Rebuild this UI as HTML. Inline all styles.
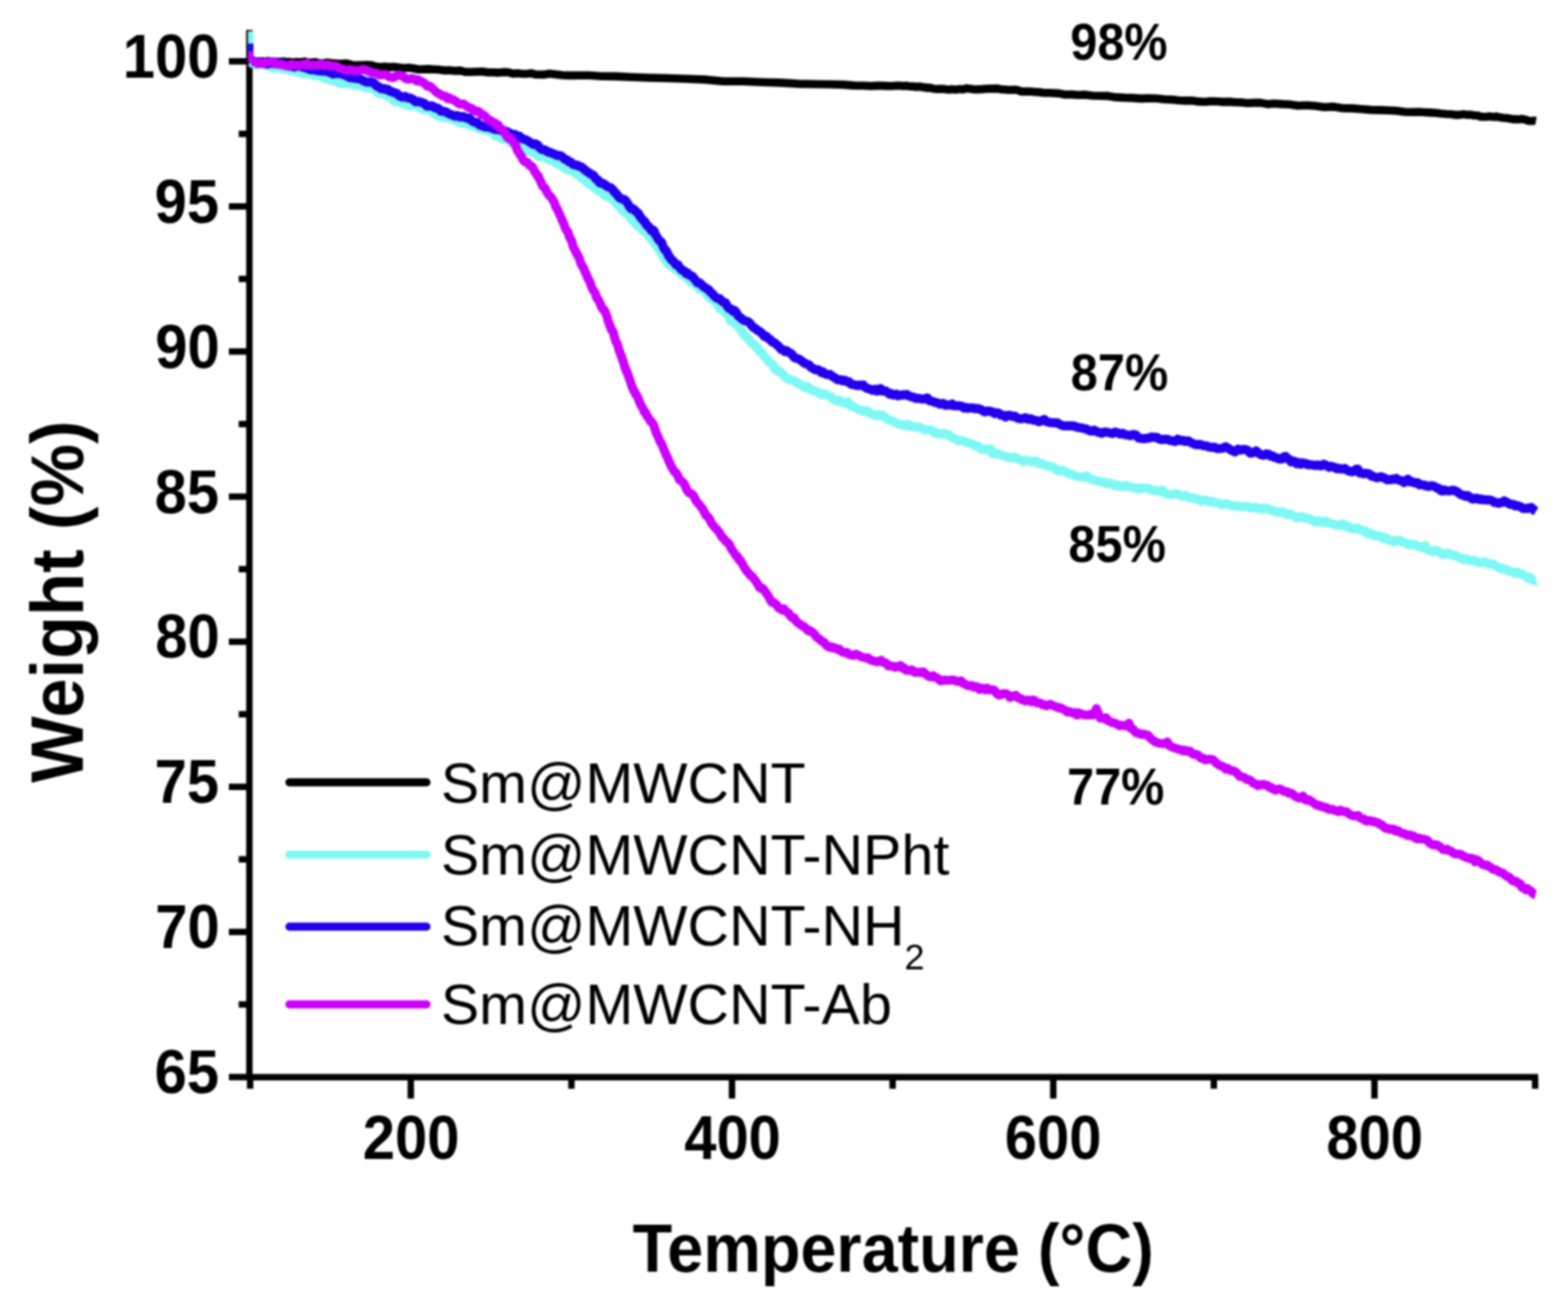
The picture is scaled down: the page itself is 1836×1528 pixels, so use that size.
<!DOCTYPE html>
<html><head><meta charset="utf-8"><title>TGA</title><style>html,body{margin:0;padding:0;background:#fff;width:1836px;height:1528px;overflow:hidden}svg{display:block;filter:blur(1px)}</style></head><body>
<svg width="1836" height="1528" viewBox="0 0 1836 1528">
<rect width="1836" height="1528" fill="#ffffff"/>
<g stroke="#000" stroke-width="7.5" fill="none" stroke-linecap="butt">
<path d="M292.0 35V1264.8"/>
<path d="M288.5 1261.3H1801.0"/>
<path d="M292.0 1261.1H268.0"/>
<path d="M292.0 1091.2H268.0"/>
<path d="M292.0 921.3H268.0"/>
<path d="M292.0 751.4H268.0"/>
<path d="M292.0 581.5H268.0"/>
<path d="M292.0 411.6H268.0"/>
<path d="M292.0 241.7H268.0"/>
<path d="M292.0 71.8H268.0"/>
<path d="M292.0 156.8H279.5"/>
<path d="M292.0 326.6H279.5"/>
<path d="M292.0 496.5H279.5"/>
<path d="M292.0 666.4H279.5"/>
<path d="M292.0 836.3H279.5"/>
<path d="M292.0 1006.2H279.5"/>
<path d="M292.0 1176.1H279.5"/>
<path d="M481.0 1261.3V1286.3"/>
<path d="M857.1 1261.3V1286.3"/>
<path d="M1233.3 1261.3V1286.3"/>
<path d="M1609.4 1261.3V1286.3"/>
<path d="M292.9 1261.3V1274.8"/>
<path d="M669.1 1261.3V1274.8"/>
<path d="M1045.2 1261.3V1274.8"/>
<path d="M1421.3 1261.3V1274.8"/>
<path d="M1797.5 1261.3V1274.8"/>
</g>
<g fill="none" stroke-linejoin="round" stroke-linecap="butt">
<path d="M293.5 71.5L297.9 71.5L300.6 72.3L303.7 71.7L307.0 71.8L310.6 72.3L314.4 71.4L318.3 72.1L322.3 72.2L326.4 72.5L330.6 72.1L334.7 72.4L338.7 72.5L342.6 73.3L346.4 72.6L350.0 72.7L353.4 72.7L356.7 72.1L360.0 73.1L363.2 73.2L366.3 73.1L369.4 72.9L372.6 73.9L375.7 74.1L378.9 74.3L382.2 73.3L385.6 73.6L389.2 74.2L392.9 74.2L396.7 74.8L400.7 74.6L405.0 74.3L409.5 75.2L414.1 76.5L418.9 76.4L423.8 76.4L428.8 76.0L434.0 76.2L439.3 77.7L444.7 78.5L450.2 78.0L455.7 78.6L461.3 78.3L467.0 79.0L472.7 79.8L478.5 79.3L484.2 80.0L490.0 81.3L495.8 81.1L501.8 80.9L507.8 81.2L513.9 81.5L520.1 82.4L526.4 82.2L532.7 83.0L539.1 82.6L545.4 84.3L551.8 84.2L558.2 84.0L564.6 83.7L571.0 84.8L577.4 84.8L583.7 85.1L590.0 84.4L595.9 84.8L601.1 86.3L605.8 85.8L610.1 86.3L614.2 86.5L618.3 86.2L622.4 85.8L626.9 87.1L631.7 87.3L637.1 87.4L643.2 86.3L650.2 87.0L658.3 88.0L667.5 88.4L678.0 88.2L690.0 88.3L704.1 89.2L720.4 89.4L738.7 90.3L758.6 91.0L779.8 91.5L801.9 92.3L824.5 93.1L847.5 95.3L870.4 95.2L892.8 96.3L914.5 96.9L935.2 98.1L954.3 98.5L971.8 98.7L987.1 99.1L1000.0 100.1L1010.7 100.3L1019.6 100.7L1027.0 100.4L1033.0 100.4L1037.9 100.6L1041.7 100.7L1044.6 100.8L1046.9 100.5L1050.0 100.2L1052.3 100.4L1055.2 100.3L1057.3 100.8L1060.0 100.4L1063.0 100.6L1065.8 101.2L1068.3 101.0L1070.8 101.6L1073.0 101.4L1075.2 101.7L1077.4 101.2L1079.5 101.9L1081.6 102.5L1083.8 102.1L1086.1 103.2L1088.5 102.6L1091.1 103.4L1093.8 104.0L1096.8 104.3L1100.0 104.0L1103.5 104.1L1107.1 104.6L1111.0 105.0L1114.9 104.4L1119.0 104.9L1123.3 104.2L1127.6 104.8L1132.0 103.4L1136.5 104.0L1141.0 104.8L1145.5 104.6L1150.1 104.4L1154.6 104.0L1159.1 103.9L1163.6 103.9L1168.0 103.6L1172.3 104.7L1176.3 104.8L1180.3 105.2L1184.1 105.3L1187.9 105.1L1191.7 105.5L1195.6 107.1L1199.5 107.1L1203.6 107.0L1207.8 107.2L1212.3 107.8L1217.1 107.9L1222.2 108.7L1227.7 108.8L1233.6 109.0L1240.0 109.4L1246.9 110.7L1254.4 110.6L1262.3 111.3L1270.7 110.9L1279.4 112.0L1288.4 112.2L1297.6 112.4L1306.9 113.9L1316.4 114.4L1325.9 114.6L1335.4 115.4L1344.7 115.1L1354.0 115.3L1362.9 116.3L1371.6 116.6L1380.0 117.5L1388.0 117.9L1395.8 117.7L1403.3 118.9L1410.7 119.2L1417.9 118.6L1425.1 118.7L1432.2 119.4L1439.2 119.1L1446.4 119.8L1453.6 119.9L1460.9 120.8L1468.5 120.4L1476.2 120.4L1484.1 121.9L1492.4 121.3L1501.0 121.9L1510.1 122.3L1519.7 123.8L1529.7 123.2L1540.1 124.0L1550.8 125.5L1561.7 124.9L1572.6 126.8L1583.6 126.9L1594.4 127.7L1605.1 128.6L1615.6 128.9L1625.7 129.2L1635.4 129.8L1644.6 131.0L1653.1 131.2L1661.0 131.0L1668.3 131.5L1675.2 131.9L1681.7 132.2L1687.8 133.0L1693.6 133.5L1699.1 133.7L1704.3 134.6L1709.2 134.4L1713.8 133.8L1718.3 134.4L1722.5 134.4L1726.5 135.3L1730.3 135.3L1734.0 136.8L1737.5 136.7L1741.0 136.7L1744.2 136.3L1747.1 136.8L1749.6 137.0L1751.8 136.3L1753.8 137.0L1757.2 137.5L1760.1 137.9L1762.7 138.2L1765.3 138.3L1768.3 139.1L1771.8 139.6L1775.8 139.5L1777.8 139.9L1779.9 139.5L1782.0 139.2L1784.0 139.7L1786.1 140.0L1789.9 141.5L1793.4 141.8L1796.3 141.2L1798.5 141.6" stroke="#000000" stroke-width="9.6"/>
<path d="M293.5 36.5L293.5 72.5" stroke="#7ef8f4" stroke-width="6.5"/>
<path d="M293.5 72.5L295.7 74.3L298.2 75.2L300.2 76.5L302.9 75.0L306.5 74.7L308.7 75.0L311.2 76.6L313.8 76.8L316.7 78.3L319.7 79.8L322.8 79.3L325.9 79.5L329.1 80.6L332.4 80.6L335.6 81.4L338.7 82.0L341.8 82.7L344.7 82.9L347.4 84.4L350.0 83.4L352.4 84.5L354.8 86.5L357.1 85.1L359.4 86.2L361.6 86.0L363.8 86.4L365.9 88.2L368.0 88.6L370.0 88.4L372.0 88.0L373.9 89.2L377.7 90.2L381.3 92.0L384.7 93.0L387.7 93.7L390.5 94.7L393.1 94.6L395.6 96.3L398.2 97.7L400.7 97.7L403.5 96.8L406.5 97.8L409.5 98.4L412.4 98.0L415.4 99.9L418.6 99.6L421.9 100.7L425.5 100.9L427.4 102.6L429.5 102.6L431.6 102.9L433.9 102.7L436.4 104.4L439.1 105.0L441.9 108.1L444.9 110.0L447.9 109.4L451.0 111.4L454.0 112.8L457.1 114.1L460.1 117.0L463.0 119.1L465.8 119.2L468.4 119.4L470.8 121.5L473.0 121.0L475.0 122.7L478.2 123.3L480.5 123.8L482.9 124.5L485.5 123.2L487.8 124.3L490.0 124.5L492.5 126.4L495.1 128.3L497.8 128.3L500.7 127.6L503.8 129.9L507.4 132.5L509.3 133.7L511.4 134.4L513.6 136.1L516.0 135.3L518.6 137.8L521.4 137.8L524.5 138.0L527.8 138.8L531.2 140.4L534.7 141.0L538.3 143.7L541.9 144.6L545.6 144.3L549.2 146.6L552.8 147.7L556.2 148.1L559.6 150.4L562.8 149.8L565.7 152.0L568.5 152.7L571.1 152.8L573.5 153.9L575.9 154.6L578.1 155.8L580.3 159.3L582.4 158.4L584.4 159.2L586.3 161.2L588.2 162.9L590.0 162.8L593.5 163.3L596.8 165.2L600.0 168.1L603.0 168.7L605.7 169.8L608.2 171.4L610.5 171.1L612.8 172.0L615.0 174.7L617.2 174.5L619.6 176.9L622.1 178.1L624.5 178.3L627.0 180.2L629.5 182.2L631.9 183.9L634.4 182.9L636.8 183.5L639.3 185.0L641.8 186.8L644.2 187.9L646.7 188.1L649.1 189.7L651.6 191.5L654.0 192.0L656.5 194.3L658.9 195.2L661.3 196.6L663.8 198.7L666.2 198.2L668.7 199.5L671.1 200.4L673.6 202.0L676.0 204.5L678.5 204.7L681.0 208.7L683.5 209.5L686.0 212.2L688.5 214.6L691.0 216.2L693.4 217.6L695.8 220.2L698.2 220.3L700.5 223.3L702.8 224.2L705.0 226.0L707.2 228.4L709.4 229.7L711.5 230.1L713.6 229.9L715.7 231.0L717.7 234.1L719.8 236.5L721.7 238.3L723.7 240.8L725.6 240.5L727.5 244.9L729.4 246.8L731.4 248.6L733.4 249.5L735.3 250.4L737.3 253.9L739.2 256.1L741.2 258.7L743.2 259.9L745.1 263.0L747.1 264.8L749.1 265.4L751.1 267.9L753.2 270.6L755.2 271.3L757.2 273.0L759.1 275.6L761.0 277.6L762.8 280.7L764.5 282.1L766.0 283.9L767.5 286.7L769.0 287.5L770.4 290.8L771.8 292.4L773.2 294.1L774.6 297.5L776.0 298.6L777.3 301.8L778.6 304.3L779.9 305.4L781.3 307.5L782.7 309.4L784.3 310.3L786.0 311.7L787.8 312.9L789.6 313.8L791.5 314.8L793.5 317.6L795.6 318.4L798.0 320.8L800.6 322.7L803.6 324.5L805.2 326.1L807.0 327.2L808.8 330.1L810.7 329.3L812.7 330.7L814.8 334.0L816.9 335.0L819.0 338.6L821.2 337.5L823.4 338.6L825.6 342.1L827.8 344.9L830.0 348.0L832.1 349.3L834.2 350.9L836.3 352.1L838.4 354.4L840.5 356.7L842.7 361.4L845.0 362.2L847.2 363.1L849.5 366.6L851.8 368.7L854.0 371.9L856.2 376.4L858.3 376.8L860.4 378.2L862.4 380.2L864.2 382.3L866.0 384.6L867.6 386.3L869.0 388.8L871.4 392.1L873.2 393.5L875.0 395.7L876.4 396.4L877.9 398.3L880.0 401.9L881.7 402.2L883.5 403.4L885.4 406.4L887.3 408.0L889.4 411.6L891.5 412.5L893.8 415.5L896.3 419.0L898.9 421.5L901.5 424.8L904.2 426.3L905.6 427.6L907.0 431.4L908.5 432.5L910.1 434.2L911.7 435.1L913.3 434.7L915.1 437.0L916.9 438.6L918.8 440.9L920.8 442.4L922.9 443.9L925.1 444.2L927.3 445.1L929.7 445.8L932.1 447.2L934.6 449.1L937.1 450.1L939.7 451.6L942.4 453.8L945.0 452.3L947.8 455.3L950.5 456.0L953.3 458.0L956.1 458.2L958.9 460.1L961.7 462.0L964.6 461.1L967.5 462.1L970.6 463.5L973.8 465.6L977.0 468.3L980.2 469.8L983.5 468.5L986.7 471.6L990.0 472.0L993.2 470.6L996.3 475.8L999.4 475.9L1002.4 478.1L1005.3 479.5L1008.1 479.8L1010.7 481.6L1013.2 480.7L1015.6 481.2L1017.8 483.6L1020.0 484.5L1022.1 484.9L1024.2 485.9L1026.1 486.7L1028.1 485.4L1030.0 486.8L1033.7 486.0L1037.5 489.7L1039.4 490.6L1041.4 491.8L1043.4 492.1L1045.4 493.1L1047.5 494.0L1049.5 495.0L1051.6 496.2L1053.6 497.0L1055.6 497.2L1057.7 497.2L1059.7 498.4L1061.7 497.0L1063.8 497.3L1065.8 499.5L1067.8 499.7L1069.9 499.3L1071.9 500.1L1074.0 500.2L1076.0 499.8L1078.0 500.8L1080.1 501.7L1082.1 502.9L1084.2 503.4L1086.2 503.2L1088.3 503.3L1090.3 503.3L1092.4 505.3L1094.5 507.0L1096.5 506.3L1098.6 507.8L1100.6 508.0L1102.7 508.2L1104.7 507.4L1106.8 509.0L1108.8 508.6L1110.8 509.2L1112.8 511.0L1114.8 512.3L1116.8 513.1L1118.8 514.3L1120.8 515.5L1122.8 516.1L1124.7 515.7L1126.7 515.7L1128.7 516.3L1130.8 517.8L1132.8 518.4L1134.9 518.5L1137.0 519.8L1139.2 520.2L1141.4 521.9L1143.6 522.4L1145.9 522.5L1148.1 525.2L1150.4 526.1L1152.7 526.4L1155.0 525.8L1157.3 526.0L1159.7 525.6L1162.1 531.1L1164.5 531.6L1167.0 530.5L1169.5 532.0L1172.0 532.4L1174.6 533.4L1177.3 534.3L1180.0 535.5L1182.8 535.4L1185.6 536.3L1188.5 535.1L1191.5 537.3L1194.5 537.9L1197.6 540.4L1200.7 538.8L1203.8 539.3L1207.0 540.4L1210.2 540.1L1213.3 539.6L1216.5 543.2L1219.7 542.4L1222.8 544.6L1225.9 545.2L1229.0 546.1L1232.1 546.3L1235.1 548.2L1238.2 551.1L1241.2 551.1L1244.3 550.6L1247.4 552.0L1250.4 554.4L1253.5 554.7L1256.6 556.2L1259.6 557.4L1262.7 557.9L1265.8 558.3L1268.8 558.8L1271.9 557.1L1274.9 559.5L1278.0 561.4L1281.1 562.0L1284.1 562.9L1287.2 563.5L1290.2 563.9L1293.3 564.4L1296.4 566.5L1299.4 566.0L1302.5 566.2L1305.6 568.9L1308.6 567.8L1311.7 569.7L1314.8 569.9L1317.8 568.3L1320.9 569.9L1323.9 569.9L1327.0 570.8L1330.1 571.5L1333.1 573.0L1336.2 570.9L1339.2 572.0L1342.3 571.5L1345.4 572.1L1348.4 573.9L1351.5 574.5L1354.6 574.4L1357.6 575.6L1360.7 573.9L1363.8 577.3L1366.8 578.3L1369.9 579.1L1372.9 579.1L1376.0 577.7L1379.1 578.4L1382.1 580.4L1385.1 581.0L1388.1 580.1L1391.1 581.9L1394.1 583.0L1397.1 583.0L1400.1 583.9L1403.1 584.2L1406.2 586.8L1409.2 585.5L1412.3 585.7L1415.4 587.6L1418.6 586.8L1421.8 588.2L1425.0 588.6L1428.3 589.7L1431.7 591.0L1435.2 589.5L1438.8 590.7L1442.4 592.2L1446.0 592.3L1449.7 592.9L1453.3 593.1L1456.9 593.2L1460.5 592.7L1464.0 594.6L1467.4 594.6L1470.8 593.7L1474.0 595.7L1477.1 595.5L1480.0 595.9L1482.8 594.6L1485.4 595.8L1487.9 596.8L1490.3 598.3L1492.7 598.5L1494.9 599.4L1497.1 600.1L1499.2 599.5L1501.3 599.2L1503.3 600.4L1505.4 601.7L1507.4 602.8L1509.5 601.9L1511.6 602.2L1513.8 603.2L1516.0 604.7L1518.3 606.5L1520.5 604.9L1522.8 605.8L1525.0 604.8L1527.3 606.6L1529.5 606.7L1531.8 606.6L1534.0 607.6L1536.3 609.3L1538.5 609.8L1540.8 611.2L1543.0 609.9L1545.3 610.0L1547.5 611.6L1549.8 611.0L1552.0 610.0L1554.2 612.1L1556.5 611.9L1558.7 612.5L1561.0 613.5L1563.2 614.9L1565.4 614.9L1567.7 614.3L1569.9 615.4L1572.1 613.4L1574.4 614.5L1576.6 616.9L1578.8 616.4L1581.1 618.6L1583.3 619.3L1585.6 618.5L1587.8 619.2L1590.0 618.3L1592.3 620.3L1594.5 621.3L1596.8 622.1L1599.0 621.9L1601.3 625.3L1603.5 624.5L1605.8 624.8L1608.0 626.7L1610.3 627.5L1612.6 627.1L1614.8 627.5L1617.1 627.9L1619.3 630.5L1621.6 629.4L1623.8 630.4L1626.0 632.2L1628.3 633.1L1630.5 632.7L1632.8 634.5L1635.0 633.0L1637.3 632.7L1639.5 632.5L1641.8 634.5L1644.0 635.4L1646.2 636.0L1648.5 637.4L1650.7 637.6L1653.0 637.0L1655.2 638.3L1657.5 637.7L1659.7 639.6L1661.9 640.2L1664.2 640.6L1666.4 641.8L1668.7 638.8L1670.9 643.0L1673.2 644.5L1675.4 645.0L1677.7 646.0L1680.0 644.5L1682.2 644.7L1684.5 645.9L1686.7 647.3L1689.0 649.2L1691.2 648.8L1693.5 648.3L1695.7 647.6L1697.9 649.5L1700.2 649.5L1702.4 650.7L1704.7 650.4L1706.9 652.2L1709.2 653.3L1711.4 653.2L1713.6 655.4L1715.9 654.2L1718.1 654.9L1720.4 655.9L1722.6 656.5L1724.9 656.3L1727.1 656.3L1729.4 657.9L1731.6 658.7L1733.9 658.6L1736.1 658.5L1738.4 657.8L1740.7 658.9L1743.0 660.7L1745.3 660.3L1747.6 660.3L1749.9 661.7L1752.2 663.3L1754.5 663.9L1756.7 665.8L1759.0 665.4L1761.2 666.9L1763.3 666.5L1765.5 667.9L1767.6 668.7L1769.7 669.6L1771.9 669.9L1774.2 671.3L1776.4 669.9L1778.7 670.8L1780.9 671.4L1783.1 672.8L1785.3 673.9L1787.4 675.4L1789.4 677.2L1791.3 676.2L1794.7 678.9L1797.4 680.1L1798.5 679.5" stroke="#7ef8f4" stroke-width="10.6"/>
<path d="M293.5 51L293.5 72.5" stroke="#2200ee" stroke-width="6.5"/>
<path d="M293.5 72.5L296.0 71.0L298.4 72.2L302.0 72.7L304.3 73.3L306.9 73.2L309.8 73.8L313.0 75.2L316.3 73.8L319.8 74.3L323.3 74.6L327.0 73.8L330.6 73.8L334.2 76.3L337.7 77.1L341.1 77.2L344.3 78.4L347.3 77.3L350.0 77.3L352.5 77.7L355.0 78.8L357.4 79.2L359.7 80.1L361.9 80.9L364.1 81.7L366.2 81.0L368.2 81.8L370.2 82.3L374.1 83.0L377.7 83.3L381.3 83.4L384.7 84.2L387.7 85.6L390.5 86.7L393.1 85.6L395.6 86.3L398.2 86.1L400.7 86.8L403.5 88.0L406.5 89.2L409.6 90.9L412.8 91.0L416.0 91.8L419.3 92.0L422.7 93.0L426.2 94.9L429.8 96.3L433.5 95.7L435.4 96.5L437.5 96.8L439.5 99.2L441.6 101.2L443.7 101.5L445.9 103.6L448.0 104.1L450.1 103.6L452.3 104.9L454.4 104.6L456.5 106.9L458.5 107.3L460.5 108.3L462.4 108.6L464.3 109.1L467.8 112.4L471.2 113.7L474.4 112.9L477.6 114.8L480.6 114.9L483.7 116.5L486.8 119.3L490.0 118.8L493.3 119.9L496.5 120.8L499.8 124.2L503.1 124.1L506.4 124.1L509.6 126.5L512.9 126.6L516.2 130.1L519.5 130.3L522.8 131.3L526.0 133.5L529.3 134.4L532.6 136.0L535.9 135.2L539.1 137.1L542.4 136.4L545.6 138.2L548.8 138.1L552.0 141.1L555.1 143.0L558.3 143.2L561.6 146.4L565.0 147.6L568.5 148.6L572.3 148.7L574.2 149.4L576.3 150.1L578.3 151.2L580.4 151.7L582.5 151.3L584.7 152.0L586.8 152.9L588.8 153.4L590.9 154.1L592.8 153.6L596.6 155.6L600.0 157.7L603.0 157.4L605.7 159.5L608.2 159.4L610.5 161.6L612.8 162.7L615.0 163.4L617.2 164.3L619.6 165.9L622.1 167.6L624.5 169.2L627.0 168.4L629.5 169.7L631.9 173.1L634.4 175.0L636.8 175.3L639.3 176.2L641.8 178.2L644.2 178.3L646.7 179.7L649.1 180.3L651.6 181.9L654.0 182.1L656.5 182.3L658.9 184.0L661.3 186.3L663.8 187.0L666.2 189.4L668.6 190.0L671.0 192.4L673.5 193.0L676.0 193.5L678.5 194.8L681.1 195.5L683.9 198.2L686.7 200.3L689.5 202.2L692.3 204.0L695.0 205.4L697.6 209.5L700.0 210.6L702.2 214.1L704.3 213.9L706.3 215.3L708.2 216.0L710.1 217.7L711.9 218.8L713.8 219.3L715.7 220.2L717.7 222.2L719.6 224.9L721.6 226.6L723.6 229.4L725.5 231.8L727.5 232.5L729.4 233.4L731.4 233.8L733.4 236.0L735.3 238.7L737.3 242.5L739.2 244.4L741.2 244.4L743.2 246.0L745.1 248.0L747.1 249.5L749.1 253.0L751.1 255.7L753.2 258.2L755.2 259.6L757.2 263.8L759.1 264.7L761.0 267.3L762.8 270.0L764.5 269.2L766.0 270.6L767.5 275.0L768.9 276.7L770.3 279.3L771.7 281.3L773.2 282.8L774.6 283.5L776.0 287.4L777.4 290.6L778.8 292.7L780.2 293.6L781.6 296.4L783.1 300.1L784.7 301.7L786.4 304.4L788.2 305.5L790.0 307.8L791.8 310.2L793.7 309.9L795.8 313.3L798.1 316.0L800.7 317.0L803.6 320.4L805.2 319.6L806.9 321.9L808.8 323.1L810.7 323.3L812.7 326.0L814.7 328.5L816.8 331.1L819.0 331.0L821.2 333.0L823.4 335.2L825.6 336.6L827.8 338.2L829.9 339.3L832.1 342.3L834.2 343.8L836.3 346.6L838.4 348.4L840.5 349.5L842.7 349.5L845.0 352.3L847.2 353.8L849.5 354.4L851.8 358.9L854.0 361.4L856.2 361.8L858.3 364.5L860.4 363.7L862.4 366.3L864.2 369.7L866.0 371.2L867.6 372.3L870.2 374.6L872.1 375.5L873.8 376.0L875.7 376.6L877.7 377.9L880.0 381.3L883.0 383.9L884.8 384.8L886.6 386.8L888.6 387.5L890.7 389.0L892.8 391.1L895.0 393.9L897.2 393.6L899.5 396.4L901.8 397.4L904.0 400.3L906.3 401.0L908.5 402.7L910.6 404.5L912.7 406.7L914.7 409.1L916.8 409.5L918.8 411.5L920.9 410.6L922.9 412.3L925.0 413.2L927.0 414.5L929.1 417.6L931.1 419.3L933.1 419.5L935.2 420.4L937.2 421.5L939.3 423.2L941.3 424.7L943.4 425.8L945.4 426.6L947.4 427.3L949.5 430.0L951.5 431.0L953.6 432.5L955.6 433.0L957.6 432.8L959.7 433.9L961.7 436.2L963.7 435.4L965.8 437.8L967.8 438.2L969.8 438.7L971.9 438.4L973.9 440.2L976.0 441.6L978.0 442.6L980.0 444.4L982.1 444.7L984.1 444.5L986.2 446.0L988.2 445.1L990.3 445.8L992.3 447.3L994.3 447.0L996.4 449.9L998.4 450.3L1000.5 450.5L1002.5 451.2L1004.6 451.5L1006.6 450.8L1008.7 451.5L1010.7 450.7L1012.7 453.0L1014.8 454.6L1016.8 455.0L1018.9 455.6L1020.9 456.9L1023.0 457.0L1025.0 455.8L1027.1 458.0L1029.1 456.3L1031.1 454.9L1033.2 457.9L1035.2 458.0L1037.3 457.8L1039.3 459.6L1041.4 461.4L1043.4 460.7L1045.4 462.4L1047.5 462.4L1049.5 461.5L1051.6 463.5L1053.6 462.6L1055.6 462.8L1057.7 462.1L1059.7 462.5L1061.7 461.9L1063.8 463.4L1065.8 464.1L1067.8 465.0L1069.9 465.1L1071.9 466.5L1074.0 466.5L1076.0 466.4L1078.0 466.9L1080.1 467.2L1082.1 467.1L1084.2 466.3L1086.2 466.1L1088.3 469.2L1090.3 469.6L1092.4 470.0L1094.5 471.2L1096.5 471.2L1098.6 472.2L1100.6 473.3L1102.7 472.6L1104.7 472.3L1106.8 474.4L1108.8 474.4L1110.8 474.0L1112.8 474.4L1114.8 473.1L1116.8 475.3L1120.8 475.1L1124.7 475.2L1126.7 476.0L1128.7 477.8L1130.8 476.9L1132.8 478.1L1134.9 477.7L1137.0 477.6L1139.2 477.6L1141.4 478.5L1143.6 478.4L1145.9 478.6L1148.1 479.4L1150.4 480.5L1152.7 482.3L1155.0 481.8L1157.3 481.3L1159.7 481.8L1162.1 482.3L1164.5 484.3L1167.0 483.3L1169.5 483.8L1172.0 486.3L1174.6 486.0L1177.3 488.3L1180.0 486.4L1182.8 486.4L1185.6 487.7L1188.5 487.3L1191.5 489.7L1194.5 490.4L1197.6 489.9L1200.7 489.1L1203.8 491.0L1207.0 490.3L1210.2 492.0L1213.3 492.2L1216.5 494.0L1219.7 492.6L1222.8 491.1L1225.9 493.9L1229.0 494.7L1232.1 494.9L1235.1 495.1L1238.2 495.1L1241.2 497.1L1244.3 498.3L1247.4 498.8L1250.4 498.5L1253.5 498.6L1256.6 498.6L1259.6 499.6L1262.7 500.6L1265.8 501.0L1268.8 501.7L1271.9 502.3L1274.9 503.9L1278.0 504.9L1281.1 503.6L1284.1 505.4L1287.2 506.4L1290.2 507.4L1293.3 505.7L1296.4 506.0L1299.4 506.8L1302.5 507.8L1305.6 505.9L1308.6 506.7L1311.7 508.3L1314.8 507.3L1317.8 509.1L1320.9 509.5L1323.9 510.1L1327.0 508.6L1330.1 509.2L1333.1 512.9L1336.2 513.2L1339.2 513.8L1342.3 513.1L1345.4 513.0L1348.4 511.5L1351.5 512.1L1354.6 512.0L1357.6 514.3L1360.7 514.7L1363.8 514.4L1366.8 514.2L1369.9 515.8L1372.9 516.2L1376.0 517.0L1379.1 514.2L1382.1 516.0L1385.1 515.5L1388.1 517.0L1391.1 516.0L1394.1 517.9L1397.1 519.4L1400.1 520.7L1403.1 520.4L1406.2 520.6L1409.2 521.9L1412.3 522.0L1415.4 523.3L1418.6 523.9L1421.8 523.6L1425.0 525.2L1428.3 525.3L1431.7 524.8L1435.2 523.0L1438.8 525.2L1442.4 527.5L1446.0 529.2L1449.7 525.9L1453.3 527.0L1456.9 526.0L1460.5 527.0L1464.0 530.7L1467.4 530.1L1470.8 527.9L1474.0 530.9L1477.1 532.8L1480.0 533.1L1482.8 531.4L1485.4 531.7L1487.9 534.3L1490.3 533.9L1492.7 535.7L1494.9 536.0L1497.1 537.4L1499.2 537.5L1501.3 537.5L1503.3 534.7L1505.4 534.4L1507.4 536.8L1509.5 537.8L1511.6 540.8L1513.8 539.7L1516.0 540.1L1518.3 543.0L1520.5 541.6L1522.8 543.5L1525.0 541.8L1527.3 543.0L1529.5 542.7L1531.8 544.3L1534.0 544.1L1536.3 544.3L1538.5 544.7L1540.8 545.1L1543.0 544.3L1545.3 545.3L1547.5 545.4L1549.8 543.5L1552.0 544.2L1554.2 545.8L1556.5 547.2L1558.7 545.9L1561.0 546.9L1563.2 547.3L1565.4 549.0L1567.7 548.3L1569.9 549.1L1572.1 549.3L1574.4 548.3L1576.6 550.0L1578.8 551.4L1581.1 551.7L1583.3 552.4L1585.6 551.7L1587.8 549.3L1590.0 549.3L1592.3 554.0L1594.5 553.9L1596.8 554.8L1599.0 554.1L1601.3 554.6L1603.5 554.9L1605.8 557.5L1608.0 557.8L1610.3 558.7L1612.6 559.4L1614.8 558.9L1617.1 558.1L1619.3 559.1L1621.6 559.8L1623.8 561.6L1626.0 561.6L1628.3 561.7L1630.5 560.8L1632.8 561.4L1635.0 560.2L1637.3 561.7L1639.5 562.7L1641.8 562.7L1644.0 565.1L1646.2 562.6L1648.5 561.0L1650.7 564.2L1653.0 563.8L1655.2 564.9L1657.5 565.8L1659.7 565.0L1661.9 567.7L1664.2 567.3L1666.4 568.0L1668.7 568.1L1670.9 569.3L1673.2 569.6L1675.4 568.8L1677.7 568.7L1680.0 569.8L1682.2 571.2L1684.5 571.7L1686.7 574.1L1689.0 575.0L1691.2 573.5L1693.5 574.5L1695.7 574.7L1697.9 574.7L1700.2 574.1L1702.4 574.1L1704.7 575.1L1706.9 576.4L1709.2 578.2L1711.4 579.6L1713.6 579.8L1715.9 581.2L1718.1 580.2L1720.4 581.4L1722.6 583.6L1724.9 584.4L1727.1 583.6L1729.4 583.4L1731.6 584.8L1733.9 584.1L1736.1 585.3L1738.4 585.0L1740.7 585.4L1743.0 585.2L1745.3 585.6L1747.6 586.4L1749.9 588.3L1752.2 588.2L1754.5 589.4L1756.7 588.4L1759.0 588.4L1761.2 586.4L1763.3 587.9L1765.5 588.6L1767.6 590.2L1769.7 590.6L1771.9 590.6L1774.2 592.5L1776.4 591.9L1778.7 592.9L1780.9 593.4L1783.1 595.4L1785.3 595.2L1787.4 595.5L1789.4 595.0L1793.1 594.1L1796.2 597.3L1798.5 598.8" stroke="#2200ee" stroke-width="10.6"/>
<path d="M293.5 60L293.5 72.5" stroke="#cc00ff" stroke-width="6.5"/>
<path d="M293.5 72.5L295.2 72.0L298.4 72.8L302.0 74.4L304.3 73.1L306.9 74.6L309.8 73.6L313.0 73.2L316.3 72.5L319.8 72.3L323.3 74.8L327.0 75.3L330.6 75.8L334.2 76.9L337.7 77.2L341.1 75.2L344.3 76.2L347.3 76.0L350.0 76.2L352.5 76.4L355.0 75.3L357.4 75.9L359.7 74.4L361.9 76.2L364.1 76.3L366.2 76.3L368.2 75.8L372.2 76.3L375.9 75.0L379.5 76.7L383.0 75.6L386.1 76.4L388.7 77.6L390.9 77.5L393.1 77.3L395.3 78.5L397.9 79.8L401.1 80.9L405.0 82.2L407.3 82.3L409.8 81.4L412.5 81.8L415.4 83.2L418.4 82.4L421.6 82.5L424.8 81.0L428.1 81.9L431.4 83.5L434.7 84.7L437.9 85.6L441.2 85.7L444.3 87.8L447.3 87.6L450.3 87.1L453.0 87.5L455.6 90.2L458.2 90.6L460.8 90.8L463.3 89.4L465.7 87.9L468.2 87.7L470.5 89.1L472.9 90.0L475.2 92.2L477.4 92.6L479.6 92.8L481.8 91.8L483.9 92.3L486.0 92.8L488.0 94.9L490.0 93.4L491.9 95.3L493.7 95.6L497.2 97.6L500.3 101.1L503.4 100.9L506.4 103.4L509.4 106.5L512.7 109.1L516.2 110.8L518.1 112.3L520.0 112.5L521.9 112.7L523.9 115.5L525.9 114.5L528.0 116.3L530.1 116.4L532.1 117.5L534.2 118.9L536.4 121.1L538.5 121.7L540.6 121.7L542.7 121.8L544.8 123.2L546.8 124.7L548.9 125.7L551.0 126.8L553.1 127.2L555.2 130.1L557.4 130.4L559.6 130.2L561.8 131.6L564.0 134.6L566.1 134.5L568.3 136.3L570.4 138.7L572.4 140.9L574.4 141.0L576.4 142.4L578.2 143.7L579.9 144.0L581.6 147.1L583.2 146.0L586.1 151.0L588.8 152.0L591.3 155.2L593.5 160.3L595.6 162.0L597.5 161.5L599.2 164.0L600.7 165.7L602.5 168.5L603.7 169.2L604.9 173.6L606.1 176.9L607.3 178.1L608.4 180.2L609.5 182.0L610.7 183.0L612.0 186.5L613.5 188.6L615.3 189.6L617.3 189.9L619.3 192.6L621.2 194.7L622.9 194.7L624.3 197.2L625.6 200.1L626.8 202.0L627.9 203.1L629.1 205.9L630.3 206.0L631.4 209.2L632.5 211.5L633.7 213.5L635.0 217.4L636.5 218.9L638.2 220.3L640.0 224.2L641.9 227.3L643.2 228.9L644.5 230.3L645.8 231.4L647.0 233.7L648.3 235.8L649.5 238.1L650.7 242.2L652.0 244.1L653.3 246.3L654.8 250.2L656.4 253.3L657.3 255.6L658.2 258.0L659.1 259.5L660.1 262.2L661.1 264.5L662.1 267.8L663.1 269.2L664.2 270.8L665.3 271.9L666.3 276.4L667.4 278.7L668.5 280.7L669.6 282.1L670.6 287.3L671.7 290.0L672.7 292.3L673.7 293.0L674.7 296.8L675.8 297.2L676.8 300.0L677.8 301.1L678.8 304.0L679.8 307.7L680.8 309.7L681.9 311.9L682.9 312.7L683.9 315.2L684.9 318.3L685.9 319.5L687.0 322.5L688.0 325.5L689.0 326.6L690.0 329.1L691.1 330.8L692.1 334.6L693.1 337.0L694.2 339.1L695.2 340.7L696.3 342.1L697.3 343.8L698.3 348.0L699.4 350.1L700.4 350.3L701.4 353.1L702.4 354.3L703.4 357.1L704.4 360.0L705.4 360.9L706.4 362.7L707.3 362.6L708.3 365.0L709.2 366.3L710.2 369.4L711.1 371.7L712.0 376.2L712.9 377.4L713.8 381.4L714.7 381.7L715.6 385.8L716.5 386.0L717.4 387.6L718.3 389.6L719.1 393.6L720.0 396.0L720.8 399.5L721.7 400.8L722.5 401.8L723.3 404.3L724.1 407.1L724.9 411.1L725.7 411.7L726.4 413.8L727.2 416.9L728.0 417.3L728.8 421.6L729.5 422.2L730.3 425.2L731.1 428.1L731.9 431.2L732.7 431.4L733.5 435.1L734.3 435.3L735.1 438.8L735.9 439.6L736.8 443.9L737.6 444.8L738.4 447.7L739.2 450.1L740.0 452.9L740.9 454.2L741.7 457.0L742.5 457.8L743.3 458.8L744.2 461.8L745.8 463.2L747.5 466.7L749.2 471.8L750.9 475.0L752.6 477.6L754.2 482.2L755.9 482.9L757.4 486.9L758.9 488.5L760.3 490.7L761.6 493.3L762.8 493.6L764.0 495.6L765.2 497.3L766.3 500.4L767.5 504.1L768.7 507.8L769.9 509.7L771.1 512.5L772.2 515.5L773.4 518.0L774.6 519.3L775.8 522.5L777.1 525.8L778.5 528.9L780.0 532.9L781.5 535.3L783.0 539.7L784.6 543.2L786.3 546.5L788.0 549.3L789.8 552.5L791.6 553.4L793.5 556.6L795.5 561.7L797.6 562.9L799.7 564.7L801.8 567.6L803.9 573.0L806.0 576.2L808.0 577.8L809.9 578.1L811.8 579.8L813.6 583.5L815.4 587.0L817.1 589.0L819.0 591.0L820.8 593.5L822.7 595.9L824.7 599.5L826.6 603.5L828.7 605.0L830.7 607.3L832.7 611.9L834.8 614.8L836.9 617.4L839.0 619.5L841.1 621.9L843.3 625.0L845.5 629.0L847.6 630.6L849.8 633.9L852.0 635.1L854.2 638.0L856.3 642.6L858.4 645.5L860.5 648.7L862.5 651.7L863.5 651.5L864.6 654.0L865.6 656.1L866.6 655.7L868.6 659.0L870.7 663.0L872.7 666.1L874.7 669.1L876.8 671.2L878.8 674.1L880.9 675.2L882.9 677.7L884.9 680.6L887.0 683.4L889.0 687.6L891.0 689.2L893.1 688.8L895.1 691.5L897.2 694.4L899.3 697.4L901.3 701.2L903.4 705.0L905.4 704.9L907.4 706.9L909.5 708.0L911.5 711.8L913.6 712.7L915.6 714.3L917.6 712.7L919.7 715.1L921.7 717.0L923.7 718.1L925.8 721.8L927.8 723.4L929.8 723.1L931.9 727.2L933.9 729.0L936.0 730.4L938.0 732.0L940.0 733.0L942.1 734.0L944.1 736.3L946.2 738.7L948.3 738.2L950.3 739.9L952.4 741.0L954.4 743.7L956.4 746.0L958.5 747.8L960.5 748.9L962.6 751.2L964.6 751.7L966.6 754.4L968.7 756.5L970.7 757.7L972.7 756.9L974.8 758.7L976.8 758.2L978.8 759.0L980.9 760.6L982.9 760.0L985.0 762.5L987.0 763.8L988.9 764.1L991.6 763.7L994.2 766.3L997.1 766.9L999.3 767.5L1001.9 765.9L1005.0 767.1L1008.5 769.0L1012.4 770.1L1014.4 770.3L1016.5 770.3L1018.7 772.4L1020.9 773.3L1023.0 773.9L1025.3 774.3L1027.5 775.1L1029.6 773.9L1031.8 773.1L1033.9 775.5L1036.0 775.6L1038.0 776.9L1040.1 779.8L1042.1 779.4L1044.2 779.9L1046.2 780.3L1048.3 781.5L1050.3 780.2L1052.4 780.7L1054.5 779.1L1056.5 782.2L1058.6 781.9L1060.6 784.8L1062.7 784.9L1064.7 785.1L1066.8 784.1L1068.8 784.8L1070.8 787.3L1072.8 786.9L1074.8 787.3L1076.8 786.9L1078.8 787.7L1080.8 786.6L1082.8 788.0L1084.7 790.0L1086.7 791.4L1088.7 792.5L1090.8 792.5L1092.8 791.2L1094.9 793.0L1097.0 793.5L1099.2 795.3L1101.4 797.3L1103.7 796.5L1106.0 796.3L1108.3 796.5L1110.7 796.6L1113.1 796.2L1115.5 796.2L1118.0 796.6L1120.5 797.9L1123.0 797.6L1125.5 797.2L1127.9 800.5L1130.4 801.0L1132.8 802.7L1135.3 803.0L1137.6 802.5L1140.0 804.5L1142.3 803.7L1144.6 804.3L1146.9 807.3L1149.2 805.8L1151.4 806.0L1153.7 807.7L1155.9 805.6L1158.2 807.7L1160.4 807.8L1162.6 807.4L1164.8 808.6L1167.1 812.3L1169.3 813.8L1171.5 813.5L1173.8 812.1L1176.0 812.4L1178.2 812.3L1180.5 813.5L1182.7 816.7L1185.0 815.2L1187.2 814.6L1189.5 814.1L1191.7 817.1L1194.0 817.2L1196.2 819.2L1198.4 819.3L1200.7 820.8L1202.9 819.7L1205.2 820.2L1207.4 821.7L1209.7 819.6L1211.9 820.6L1214.1 823.1L1216.4 822.9L1218.6 823.3L1220.9 825.4L1223.1 825.2L1225.4 826.5L1227.6 825.5L1229.8 824.5L1232.1 825.8L1234.3 826.7L1236.6 827.5L1238.8 828.7L1241.1 828.5L1243.3 829.5L1245.6 830.8L1247.8 832.1L1250.0 833.7L1252.3 833.0L1254.5 834.2L1256.8 835.0L1259.0 834.3L1261.3 837.4L1263.5 834.7L1265.8 836.0L1268.1 836.4L1270.3 837.2L1272.6 837.3L1274.8 837.0L1277.1 836.2L1279.3 837.2L1281.6 835.5L1283.8 829.6L1286.0 835.2L1288.3 840.9L1290.5 840.9L1292.8 841.6L1295.0 840.3L1297.3 844.0L1299.5 844.6L1301.8 846.0L1304.0 846.3L1306.2 847.0L1308.5 848.2L1310.7 849.7L1313.0 849.1L1315.2 849.5L1317.5 849.8L1319.7 850.2L1321.9 846.7L1324.2 853.0L1326.4 853.4L1328.7 856.6L1330.9 858.2L1333.2 858.4L1335.4 859.7L1337.7 859.5L1340.0 859.7L1342.2 860.5L1344.5 861.1L1346.7 864.2L1349.0 866.0L1351.2 867.5L1353.5 869.2L1355.7 869.6L1357.9 870.4L1360.2 870.6L1362.4 870.5L1364.7 870.7L1366.9 868.8L1369.2 873.0L1371.4 874.4L1373.6 875.0L1375.9 875.8L1378.1 876.4L1380.4 877.5L1382.6 877.7L1384.9 879.2L1387.1 878.2L1389.4 879.7L1391.6 879.3L1393.8 879.7L1396.1 882.7L1398.3 883.4L1400.4 883.2L1402.6 883.7L1404.8 886.6L1407.0 888.0L1409.2 887.8L1411.4 889.7L1413.6 889.4L1415.9 888.9L1418.1 889.1L1420.5 889.6L1422.8 892.2L1425.2 894.4L1427.6 895.8L1430.1 897.0L1432.6 897.7L1435.2 900.7L1437.9 899.8L1440.6 902.0L1443.3 902.3L1446.0 903.3L1448.7 905.4L1451.5 909.1L1454.2 909.5L1456.9 910.3L1459.6 912.8L1462.3 913.0L1464.9 914.2L1467.5 917.1L1470.0 917.7L1472.5 919.9L1474.9 918.7L1477.3 919.2L1479.6 918.3L1482.0 919.3L1484.3 919.7L1486.6 922.2L1488.8 922.0L1491.1 924.2L1493.4 925.3L1495.6 924.2L1497.9 923.7L1500.1 924.3L1502.4 925.9L1504.7 926.9L1507.0 927.0L1509.3 928.9L1511.6 928.4L1513.9 930.0L1516.2 932.0L1518.6 933.5L1520.9 934.5L1523.2 934.2L1525.5 931.9L1527.8 935.9L1530.1 937.2L1532.4 936.3L1534.8 937.9L1537.1 939.4L1539.4 941.1L1541.7 942.8L1544.0 942.6L1546.3 944.2L1548.6 944.1L1550.9 945.5L1553.2 945.5L1555.6 947.6L1557.9 947.7L1560.2 947.5L1562.5 948.7L1564.8 949.5L1567.1 950.4L1569.4 948.5L1571.8 950.0L1574.1 950.5L1576.4 950.1L1578.7 952.5L1581.0 953.8L1583.3 955.0L1585.6 955.3L1587.9 955.3L1590.2 954.8L1592.6 957.5L1594.9 958.7L1597.2 958.9L1599.5 961.4L1601.8 961.2L1604.1 960.7L1606.4 962.0L1608.7 961.7L1611.1 963.1L1613.4 963.2L1615.7 965.3L1618.0 965.7L1620.3 968.3L1622.6 969.9L1625.0 969.6L1627.3 971.3L1629.6 970.8L1631.9 970.6L1634.3 973.3L1636.6 972.4L1638.9 974.2L1641.3 975.7L1643.6 975.7L1645.9 977.2L1648.2 978.4L1650.6 977.4L1652.9 979.1L1655.2 978.7L1657.5 981.5L1659.8 982.3L1662.1 981.2L1664.5 982.5L1666.8 982.5L1669.1 982.9L1671.4 984.1L1673.7 987.0L1676.0 988.2L1678.3 989.5L1680.6 988.9L1682.9 989.4L1685.3 990.9L1687.6 992.8L1689.9 995.0L1692.2 994.6L1694.5 994.3L1696.8 996.1L1699.2 996.8L1701.5 998.6L1703.8 999.9L1706.1 999.9L1708.4 1000.0L1710.7 1000.4L1713.1 1002.3L1715.4 1003.2L1717.7 1004.3L1720.0 1005.0L1722.3 1004.7L1724.7 1005.5L1727.0 1009.2L1729.3 1006.7L1731.6 1008.0L1734.0 1010.5L1736.3 1012.3L1738.7 1013.0L1741.0 1012.6L1743.4 1014.7L1745.8 1015.7L1748.1 1017.8L1750.5 1018.2L1752.8 1019.0L1755.1 1020.8L1757.4 1021.5L1759.7 1022.2L1761.9 1024.3L1764.1 1026.1L1766.3 1026.6L1768.5 1028.3L1770.7 1031.1L1773.0 1032.1L1775.3 1031.7L1777.7 1034.4L1780.0 1034.6L1782.2 1039.2L1784.5 1039.5L1786.6 1041.9L1788.7 1040.5L1790.6 1042.5L1792.4 1043.2L1795.6 1046.9L1798.0 1047.5" stroke="#cc00ff" stroke-width="10.4"/>
</g>
<g font-family='"Liberation Sans", Arial, Helvetica, sans-serif' fill="#000">
<text transform="translate(181.02 1280.10) scale(0.9450 1)" font-size="71.8" font-weight="bold">65</text>
<text transform="translate(181.70 1110.20) scale(0.9450 1)" font-size="71.8" font-weight="bold">70</text>
<text transform="translate(181.02 940.30) scale(0.9450 1)" font-size="71.8" font-weight="bold">75</text>
<text transform="translate(181.70 770.40) scale(0.9450 1)" font-size="71.8" font-weight="bold">80</text>
<text transform="translate(181.02 600.50) scale(0.9450 1)" font-size="71.8" font-weight="bold">85</text>
<text transform="translate(181.70 430.60) scale(0.9450 1)" font-size="71.8" font-weight="bold">90</text>
<text transform="translate(181.02 260.70) scale(0.9450 1)" font-size="71.8" font-weight="bold">95</text>
<text transform="translate(143.70 90.80) scale(0.9450 1)" font-size="71.8" font-weight="bold">100</text>
<text transform="translate(424.68 1356.80) scale(0.9450 1)" font-size="71.8" font-weight="bold">200</text>
<text transform="translate(801.16 1356.80) scale(0.9450 1)" font-size="71.8" font-weight="bold">400</text>
<text transform="translate(1176.62 1356.80) scale(0.9450 1)" font-size="71.8" font-weight="bold">600</text>
<text transform="translate(1553.10 1356.80) scale(0.9450 1)" font-size="71.8" font-weight="bold">800</text>
<text transform="translate(740.64 1489.00) scale(0.9419 1)" font-size="80.5" font-weight="bold">Temperature (°C)</text>
<text transform="translate(96.5 916.60) rotate(-90) scale(0.9530 1)" font-size="86.5" font-weight="bold">Weight (%)</text>
<text transform="translate(1253.32 69.69) scale(0.9251 1)" font-size="61.5" font-weight="bold">98%</text>
<text transform="translate(1253.79 457.28) scale(0.9262 1)" font-size="61.5" font-weight="bold">87%</text>
<text transform="translate(1250.99 658.18) scale(0.9270 1)" font-size="61.5" font-weight="bold">85%</text>
<text transform="translate(1249.53 942.38) scale(0.9242 1)" font-size="61.5" font-weight="bold">77%</text>
</g>
<g stroke-width="9.3" stroke-linecap="round">
<path d="M338.8 916H499.5" stroke="#000000"/>
<path d="M338.8 1000.6H499.5" stroke="#7ef8f4"/>
<path d="M338.8 1085H499.5" stroke="#2200ee"/>
<path d="M338.8 1176H499.5" stroke="#cc00ff"/>
</g>
<g font-family='"Liberation Sans", Arial, Helvetica, sans-serif' fill="#000">
<text transform="translate(516.24 940.30) scale(1.0120 1)" font-size="66.5">Sm@MWCNT</text>
<text transform="translate(516.24 1023.60) scale(1.0120 1)" font-size="66.5">Sm@MWCNT-NPht</text>
<text transform="translate(516.24 1199.30) scale(1.0120 1)" font-size="66.5">Sm@MWCNT-Ab</text>
<text transform="translate(516.24 1107) scale(1.0120 1)" font-size="66.5">Sm@MWCNT-NH<tspan x="536.23" y="27.8" font-size="42">2</tspan></text>
</g>
</svg>
</body></html>
